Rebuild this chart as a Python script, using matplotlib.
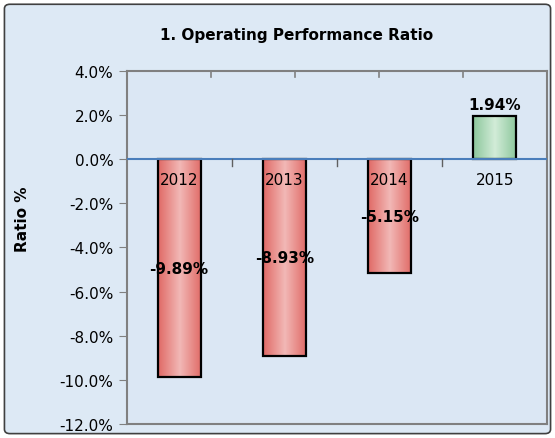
import matplotlib
matplotlib.use("Agg")
import matplotlib.pyplot as plt
import numpy as np
from matplotlib.patches import FancyBboxPatch
from matplotlib.colors import LinearSegmentedColormap

# data
years = ["2012", "2013", "2014", "2015"]
ratios = [-9.89, -8.93, -5.15, 1.94]

fig = plt.figure(figsize=(5.55, 4.39), dpi=100)
fig.patch.set_facecolor("white")

# outer rounded frame with light blue fill
frame = FancyBboxPatch((0.008, 0.01), 0.984, 0.978, boxstyle="round,pad=0,rounding_size=0.01",
                       transform=fig.transFigure, facecolor="#dde9f5", edgecolor="#404040", lw=1.2,
                       zorder=-10)
fig.patches.append(frame)

ax = fig.add_axes([0.228, 0.032, 0.758, 0.804])
ax.set_facecolor("#dbe7f4")

x = np.arange(len(years))
w = 0.41
bars = ax.bar(x, ratios, width=w, color="none", edgecolor="black", lw=1.6, zorder=3)

red_cm = LinearSegmentedColormap.from_list("r", ["#e06a66", "#f2b8b6", "#e06a66"])
green_cm = LinearSegmentedColormap.from_list("g", ["#8cc79c", "#d2ecd8", "#8cc79c"])
grad = np.linspace(0, 1, 100).reshape(1, -1)
for b, v in zip(bars, ratios):
    cm = green_cm if v > 0 else red_cm
    x0 = b.get_x()
    y0, y1 = sorted([0, v])
    im = ax.imshow(grad, cmap=cm, aspect="auto", extent=[x0, x0 + w, y0, y1], zorder=2)
    im.set_clip_path(b)

ax.axhline(0, color="#4a7ebb", lw=1.5, zorder=4)

ax.set_xlim(-0.5, 3.5)
ax.set_ylim(-12, 4)
ax.set_yticks(np.arange(-12, 4.1, 2))
ax.set_yticklabels(["%.1f%%" % t for t in np.arange(-12, 4.1, 2)], fontsize=11)
ax.set_xticks([])
for s in ax.spines.values():
    s.set_color("#808080")
    s.set_linewidth(1.5)
ax.tick_params(axis="y", length=6, color="#808080")

# category boundary ticks on zero line
for bx in [0.5, 1.5, 2.5]:
    ax.plot([bx, bx], [0, -0.3], color="#606060", lw=1, zorder=4)
# top ticks
for tx in np.linspace(-0.5, 3.5, 6):
    ax.plot([tx, tx], [4, 3.75], color="#808080", lw=1.2, clip_on=False)

# category labels just below zero
for i, yr in enumerate(years):
    ax.text(i, -0.6, yr, ha="center", va="top", fontsize=11, zorder=5)

# data labels
for i, v in enumerate(ratios):
    if v < 0:
        ax.text(i, v / 2, "%.2f%%" % v, ha="center", va="center", fontsize=11, fontweight="bold", zorder=5)
    else:
        ax.text(i, v + 0.2, "%.2f%%" % v, ha="center", va="bottom", fontsize=11, fontweight="bold", zorder=5)

fig.text(0.534, 0.92, "1. Operating Performance Ratio", ha="center", va="center", fontsize=11, fontweight="bold")
fig.text(0.04, 0.5, "Ratio %", rotation=90, ha="center", va="center", fontsize=11, fontweight="bold")

fig.savefig("out.png", dpi=100)
